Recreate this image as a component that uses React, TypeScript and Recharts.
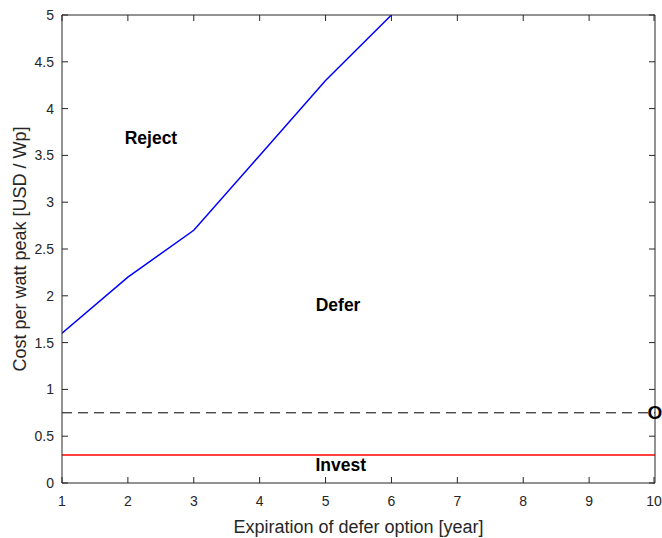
import { LineChart, Line, XAxis, YAxis, ReferenceDot, Label } from "recharts";

const xTicks = [1, 2, 3, 4, 5, 6, 7, 8, 9, 10];
const yTicks = [0, 0.5, 1, 1.5, 2, 2.5, 3, 3.5, 4, 4.5, 5];

const boundaryX = [1, 2, 3, 4, 5, 6];
const boundaryY = [1.6, 2.2, 2.7, 3.5, 4.3, 5.0];

const thresholdX = [1, 10];
const deferLevel = [0.75, 0.75];
const investLevel = [0.3, 0.3];

const regions = [
  { name: "Reject", x: 2.35, y: 3.69 },
  { name: "Defer", x: 5.19, y: 1.9 },
  { name: "Invest", x: 5.23, y: 0.19 },
];
const markerPoint = { x: 10, y: 0.75 };

const boundaryData = boundaryX.map((x, i) => ({ x, y: boundaryY[i] }));
const deferData = thresholdX.map((x, i) => ({ x, y: deferLevel[i] }));
const investData = thresholdX.map((x, i) => ({ x, y: investLevel[i] }));

const FONT = "'Liberation Sans', Arial, Helvetica, sans-serif";
const AXIS = "#262626";

function LeftTick({ x, y, payload }: any) {
  return (
    <g>
      <line x1={x + 8} x2={x + 14} y1={y} y2={y} stroke={AXIS} />
      <text x={x} y={y} textAnchor="end" dominantBaseline="central" fontSize={14} fill={AXIS} fontFamily={FONT}>
        {payload.value}
      </text>
    </g>
  );
}

function BottomTick({ x, y, payload }: any) {
  return (
    <g>
      <line x1={x} x2={x} y1={y - 8} y2={y - 14} stroke={AXIS} />
      <text x={x} y={y + 5} textAnchor="middle" dy="0.71em" fontSize={14} fill={AXIS} fontFamily={FONT}>
        {payload.value}
      </text>
    </g>
  );
}

function RightTick({ x, y }: any) {
  return <line x1={x - 8} x2={x - 14} y1={y} y2={y} stroke={AXIS} />;
}

function TopTick({ x, y }: any) {
  return <line x1={x} x2={x} y1={y + 8} y2={y + 14} stroke={AXIS} />;
}

function RegionLabel({ viewBox, value, size }: any) {
  return (
    <text
      x={viewBox.x}
      y={viewBox.y}
      textAnchor="middle"
      dominantBaseline="central"
      fontSize={size}
      fontWeight="bold"
      fill="#000"
      fontFamily={FONT}
    >
      {value}
    </text>
  );
}

export default function App() {
  return (
    <div style={{ position: "absolute", left: 0, top: 0, background: "#fff" }}>
      <LineChart width={662} height={538} margin={{ top: 0, right: 0, bottom: 0, left: 0 }}>
        <XAxis
          xAxisId="b"
          dataKey="x"
          type="number"
          domain={[1, 10]}
          ticks={xTicks}
          height={55}
          tickSize={0}
          tickMargin={8}
          tick={<BottomTick />}
          stroke={AXIS}
          allowDataOverflow
        >
          <Label
            content={({ viewBox }: any) => (
              <text
                x={viewBox.x + viewBox.width / 2}
                y={viewBox.y + 44}
                textAnchor="middle"
                dominantBaseline="central"
                fontSize={18}
                fill={AXIS}
                fontFamily={FONT}
              >
                Expiration of defer option [year]
              </text>
            )}
          />
        </XAxis>
        <XAxis
          xAxisId="t"
          orientation="top"
          dataKey="x"
          type="number"
          domain={[1, 10]}
          ticks={xTicks}
          height={15}
          tickSize={0}
          tickMargin={8}
          tick={<TopTick />}
          stroke={AXIS}
          allowDataOverflow
        />
        <YAxis
          yAxisId="l"
          type="number"
          domain={[0, 5]}
          ticks={yTicks}
          width={62}
          tickSize={0}
          tickMargin={8}
          tick={<LeftTick />}
          stroke={AXIS}
          allowDataOverflow
        >
          <Label
            content={({ viewBox }: any) => {
              const cx = viewBox.x + 20;
              const cy = viewBox.y + viewBox.height / 2;
              return (
                <text
                  x={cx}
                  y={cy}
                  transform={`rotate(-90 ${cx} ${cy})`}
                  textAnchor="middle"
                  dominantBaseline="central"
                  fontSize={18}
                  fill={AXIS}
                  fontFamily={FONT}
                >
                  Cost per watt peak [USD / Wp]
                </text>
              );
            }}
          />
        </YAxis>
        <YAxis
          yAxisId="r"
          orientation="right"
          type="number"
          domain={[0, 5]}
          ticks={yTicks}
          width={7}
          tickSize={0}
          tickMargin={8}
          tick={<RightTick />}
          stroke={AXIS}
          allowDataOverflow
        />
        <Line
          xAxisId="t"
          yAxisId="r"
          data={investData}
          dataKey="y"
          stroke="none"
          dot={false}
          isAnimationActive={false}
        />
        <Line
          xAxisId="b"
          yAxisId="l"
          data={boundaryData}
          dataKey="y"
          stroke="#0000ff"
          strokeWidth={1.5}
          dot={false}
          isAnimationActive={false}
        />
        <Line
          xAxisId="b"
          yAxisId="l"
          data={deferData}
          dataKey="y"
          stroke="#000"
          strokeWidth={1}
          strokeDasharray="10 6"
          dot={false}
          isAnimationActive={false}
        />
        <Line
          xAxisId="b"
          yAxisId="l"
          data={investData}
          dataKey="y"
          stroke="#ff0000"
          strokeWidth={1.5}
          dot={false}
          isAnimationActive={false}
        />
        {regions.map((r) => (
          <ReferenceDot
            key={r.name}
            xAxisId="b"
            yAxisId="l"
            x={r.x}
            y={r.y}
            r={0}
            stroke="none"
            fill="none"
            label={<RegionLabel value={r.name} size={17.5} />}
          />
        ))}
        <ReferenceDot
          xAxisId="b"
          yAxisId="l"
          x={markerPoint.x}
          y={markerPoint.y}
          r={0}
          stroke="none"
          fill="none"
          label={<RegionLabel value="O" size={19} />}
        />
      </LineChart>
    </div>
  );
}
